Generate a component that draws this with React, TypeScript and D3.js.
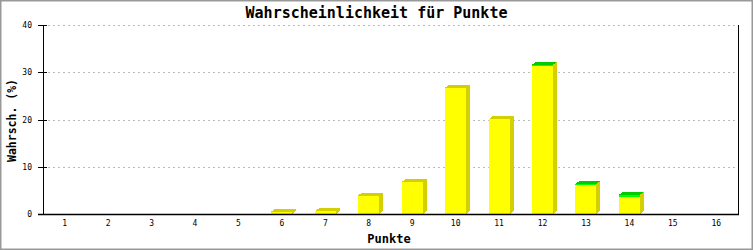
import React from "react";
import * as d3 from "d3";

const categories = ["1","2","3","4","5","6","7","8","9","10","11","12","13","14","15","16"];
const yellowValues = [0, 0, 0, 0, 0, 0.45, 0.6, 3.9, 6.8, 26.7, 20.1, 31.4, 6.1, 3.7, 0, 0];
const greenValues = [0, 0, 0, 0, 0, 0, 0, 0, 0, 0, 0, 0.2, 0.2, 0.35, 0, 0];
const yTicks = [0, 10, 20, 30, 40];
const title = "Wahrscheinlichkeit für Punkte";
const xTitle = "Punkte";
const yTitle = "Wahrsch. (%)";

const W = 753, H = 250;
const left = 43, right = 738, top = 25, bottom = 214;
const mono = "'DejaVu Sans Mono', 'Liberation Mono', monospace";

export default function App() {
  const x = d3.scaleBand<string>().domain(categories).range([left, right]).paddingInner(0).paddingOuter(0);
  const y = d3.scaleLinear().domain([0, 40]).range([bottom, top]);
  const bw = 21;
  const dx = 4, dy = 3;

  const bars = categories.map((c, i) => {
    const yv = yellowValues[i];
    const gv = greenValues[i];
    const total = yv + gv;
    if (total <= 0) return null;
    const cx = (x(c) as number) + x.bandwidth() / 2;
    const x0 = Math.round(cx - bw / 2);
    const x1 = x0 + bw;
    const yTop = y(total);
    const yMid = y(yv);
    const yBot = y(0);
    const topColor = gv > 0 ? "#00cc00" : "#d4cf00";
    return (
      <g key={c} shapeRendering="crispEdges">
        <polygon
          points={`${x1},${yTop} ${x1 + dx},${yTop - dy} ${x1 + dx},${yBot - dy} ${x1},${yBot}`}
          fill="#d4cf00"
        />
        <polygon
          points={`${x0},${yTop} ${x0 + dx},${yTop - dy} ${x1 + dx},${yTop - dy} ${x1},${yTop}`}
          fill={topColor}
        />
        <rect x={x0} y={yMid} width={bw} height={yBot - yMid} fill="#ffff00" />
        {gv > 0 && <rect x={x0} y={yTop} width={bw} height={yMid - yTop} fill="#00ff00" />}
      </g>
    );
  });

  return (
    <svg width={W} height={H} style={{ position: "absolute", left: 0, top: 0 }} fontFamily={mono}>
      <rect x={0} y={0} width={W} height={H} fill="#ffffff" />
      <rect x={0.5} y={0.5} width={W - 1} height={H - 1} fill="none" stroke="#999999" strokeWidth={2} />
      <text x={376.5} y={18} textAnchor="middle" fontSize={15} fontWeight="bold" fill="#000">{title}</text>
      {yTicks.filter(t => t > 0).map(t => (
        <line key={"g" + t} x1={left} x2={right} y1={Math.round(y(t)) + 0.5} y2={Math.round(y(t)) + 0.5}
          stroke="#bbbbbb" strokeDasharray="2,3" />
      ))}
      {bars}
      <line x1={left + 0.5} x2={left + 0.5} y1={top} y2={bottom + 0.5} stroke="#000" />
      <line x1={right + 0.5} x2={right + 0.5} y1={top} y2={bottom + 0.5} stroke="#000" />
      <line x1={38} x2={right + 1} y1={bottom + 0.5} y2={bottom + 0.5} stroke="#000" strokeWidth={1.5} />
      {yTicks.map(t => (
        <g key={"t" + t}>
          <line x1={38} x2={47} y1={Math.round(y(t)) + 0.5} y2={Math.round(y(t)) + 0.5} stroke="#000" />
          <text x={32} y={Math.round(y(t)) + 3} textAnchor="end" fontSize={8} fill="#000">{t}</text>
        </g>
      ))}
      {categories.map(c => (
        <text key={"x" + c} x={(x(c) as number) + x.bandwidth() / 2} y={226} textAnchor="middle" fontSize={8} fill="#000">{c}</text>
      ))}
      <text x={389} y={243} textAnchor="middle" fontSize={12} fontWeight="bold" fill="#000">{xTitle}</text>
      <text transform={`translate(16,${(top + bottom) / 2 + 1}) rotate(-90)`} textAnchor="middle" fontSize={11.5} fontWeight="bold" fill="#000">{yTitle}</text>
    </svg>
  );
}
